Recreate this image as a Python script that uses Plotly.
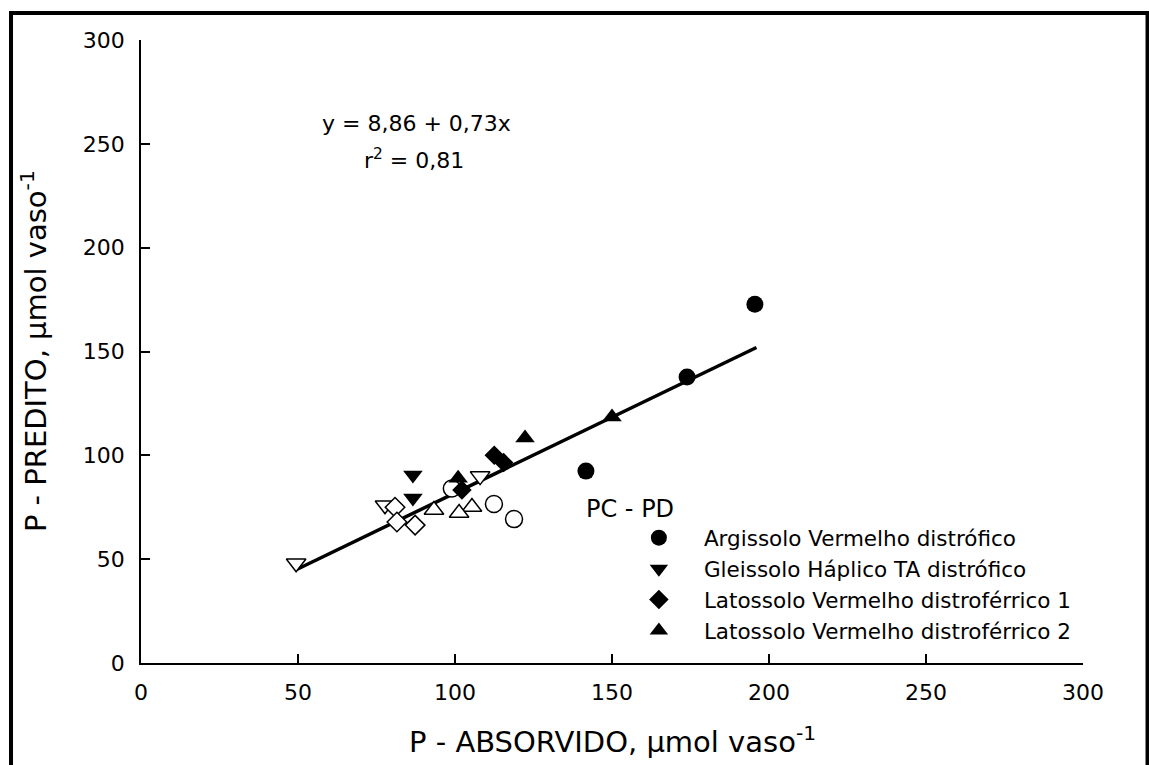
import numpy as np
import plotly.graph_objects as go

FONT = "DejaVu Sans"

# Fitted model shown on the chart
INTERCEPT = 8.86
SLOPE = 0.73
LINE_X = [49.4, 196.0]

# Soil series: filled markers = PC - PD, open markers = second treatment
soils = [
    "Argissolo Vermelho distrófico",
    "Gleissolo Háplico TA distrófico",
    "Latossolo Vermelho distroférrico 1",
    "Latossolo Vermelho distroférrico 2",
]

argissolo_fill_x = [195.5, 173.9, 141.7]
argissolo_fill_y = [172.8, 137.7, 92.4]
argissolo_open_x = [99.0, 112.4, 118.8]
argissolo_open_y = [84.0, 76.6, 69.3]

gleissolo_fill_x = [86.6, 86.6]
gleissolo_fill_y = [90.5, 79.4]
gleissolo_open_x = [108.0, 77.7, 49.4]
gleissolo_open_y = [90.0, 76.0, 48.0]

lat1_fill_x = [112.5, 115.5, 102.2]
lat1_fill_y = [100.0, 96.5, 83.3]
lat1_open_x = [80.9, 81.5, 87.3]
lat1_open_y = [75.0, 67.9, 66.4]

lat2_fill_x = [122.3, 150.0, 101.0]
lat2_fill_y = [108.3, 118.4, 89.0]
lat2_open_x = [105.4, 101.3, 93.3]
lat2_open_y = [75.1, 72.2, 73.7]

tick_vals = [0, 50, 100, 150, 200, 250, 300]

series = [
    (soils[0], "circle", 17, argissolo_fill_x, argissolo_fill_y, argissolo_open_x, argissolo_open_y),
    (soils[1], "triangle-down", 17, gleissolo_fill_x, gleissolo_fill_y, gleissolo_open_x, gleissolo_open_y),
    (soils[2], "diamond", 15, lat1_fill_x, lat1_fill_y, lat1_open_x, lat1_open_y),
    (soils[3], "triangle-up", 17, lat2_fill_x, lat2_fill_y, lat2_open_x, lat2_open_y),
]

fig = go.Figure()

# Regression line
lx = np.array(LINE_X)
fig.add_trace(go.Scatter(
    x=lx, y=INTERCEPT + SLOPE * lx, mode="lines",
    line=dict(color="black", width=3.5), showlegend=False, hoverinfo="skip",
))

for name, sym, size, fx, fy, ox, oy in series:
    fig.add_trace(go.Scatter(
        x=ox, y=oy, mode="markers", showlegend=False,
        marker=dict(symbol=sym, size=size, color="white",
                    line=dict(color="black", width=1.5)),
    ))
for name, sym, size, fx, fy, ox, oy in series:
    fig.add_trace(go.Scatter(
        x=fx, y=fy, mode="markers", name=name,
        marker=dict(symbol=sym, size=size, color="black",
                    line=dict(color="black", width=0)),
    ))

axis_common = dict(
    range=[0, 300], tickvals=tick_vals, showgrid=False, zeroline=False,
    showline=True, linecolor="black", linewidth=1.5,
    ticks="inside", ticklen=9, tickwidth=1.5, tickcolor="black",
    tickfont=dict(family=FONT, size=22, color="black"),
)

fig.update_layout(
    width=1149, height=765,
    margin=dict(l=141, r=66, t=40, b=102),
    paper_bgcolor="white", plot_bgcolor="white",
    font=dict(family=FONT, color="black"),
    xaxis=dict(**axis_common, ticklabelstandoff=9),
    yaxis=dict(**axis_common, ticklabelstandoff=10),
    legend=dict(
        x=0.502, y=0.234, xanchor="left", yanchor="top",
        bgcolor="rgba(0,0,0,0)", borderwidth=0,
        font=dict(family=FONT, size=21.5, color="black"),
        itemwidth=80,
    ),
    annotations=[
        dict(text="P - ABSORVIDO, μmol vaso<sup>-1</sup>", xref="paper", yref="paper",
             x=0.5, y=-0.124, xanchor="center", yanchor="middle", showarrow=False,
             font=dict(family=FONT, size=29)),
        dict(text="P - PREDITO, μmol vaso<sup>-1</sup>", xref="paper", yref="paper",
             x=-0.114, y=0.5, xanchor="center", yanchor="middle", textangle=-90,
             showarrow=False, font=dict(family=FONT, size=29)),
        dict(text="y = 8,86 + 0,73x", x=87.6, y=260, showarrow=False,
             font=dict(family=FONT, size=22)),
        dict(text="r<sup>2</sup> = 0,81", x=87.0, y=242.5, showarrow=False,
             font=dict(family=FONT, size=22)),
        dict(text="PC - PD", x=155.7, y=74, showarrow=False,
             font=dict(family=FONT, size=24)),
    ],
    shapes=[
        dict(type="path", xref="paper", yref="paper",
             path="M -0.138,-0.2 L -0.138,1.0435 L 1.0685,1.0435 L 1.0685,-0.2",
             line=dict(color="black", width=4)),
    ],
)

fig.write_html("out.html")
